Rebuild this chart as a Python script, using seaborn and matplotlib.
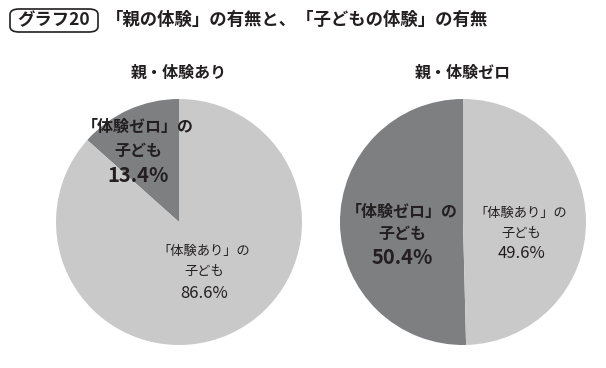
import seaborn as sns
import matplotlib.pyplot as plt
from matplotlib.patches import FancyBboxPatch

# data
charts = ["親・体験あり", "親・体験ゼロ"]
child_zero = ["「体験ゼロ」の", "子ども"]
child_with = ["「体験あり」の", "子ども"]
share_with = [13.4, 86.6]   # parent had experiences
share_zero = [50.4, 49.6]   # parent had none

sns.set_theme(style="white")
plt.rcParams['font.family'] = ['Noto Sans CJK JP', 'DejaVu Sans']

dark, light = "#7e7f81", "#c9c9ca"
ink = "#231f20"

fig = plt.figure(figsize=(6.06, 3.68), dpi=100)
W, H = 606, 368
R = 123

def px(x, y):
    return x / W, 1 - y / H

# label anchor (x, y of each line) in pixels
dark_pos = [(138, [127, 151, 176]), (402, [212, 234, 258])]
light_pos = [(204, [251, 271, 293]), (521, [213, 233, 254])]

for i, (name, vals, cx) in enumerate(zip(charts, [share_with, share_zero], [179, 463])):
    ax = fig.add_axes([(cx - R) / W, (H - 222 - R) / H, 2 * R / W, 2 * R / H])
    ax.pie(vals, colors=[dark, light], startangle=90, counterclock=True,
           wedgeprops=dict(linewidth=0))
    ax.set_xlim(-1, 1)
    ax.set_ylim(-1, 1)
    ax.set_aspect('equal')
    ax.axis('off')

    x, ys = dark_pos[i]
    for line, y in zip(child_zero, ys):
        fig.text(*px(x, y), line, ha='center', va='center', fontsize=11.5,
                 fontweight='bold', color=ink)
    fig.text(*px(x, ys[2]), f"{vals[0]:.1f}%", ha='center', va='center',
             fontsize=14.5, fontweight='bold', color=ink)

    x, ys = light_pos[i]
    for line, y in zip(child_with, ys):
        fig.text(*px(x, y), line, ha='center', va='center', fontsize=9.5, color=ink)
    fig.text(*px(x, ys[2]), f"{vals[1]:.1f}%", ha='center', va='center',
             fontsize=12, color=ink)

    fig.text(*px(cx, 73), name, ha='center', va='center',
             fontsize=11.5, fontweight='bold', color=ink)

# title with boxed tag
fig.text(*px(54, 20), "グラフ20", ha='center', va='center',
         fontsize=12.5, fontweight='bold', color=ink)
box = FancyBboxPatch((10 / W, 1 - 32 / H), 88 / W, 23 / H,
                     boxstyle="round,pad=0,rounding_size=0.015",
                     transform=fig.transFigure, fill=False, edgecolor=ink, linewidth=1.2)
fig.patches.append(box)
fig.text(*px(106, 20), "「親の体験」の有無と、「子どもの体験」の有無",
         ha='left', va='center', fontsize=12.5, fontweight='bold', color=ink)

plt.savefig('out.png', dpi=100)
